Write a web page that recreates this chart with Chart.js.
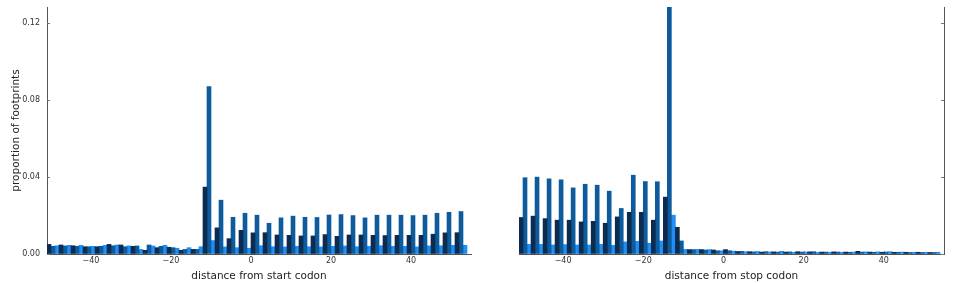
<!DOCTYPE html>
<html>
<head>
<meta charset="utf-8">
<script src="https://cdn.jsdelivr.net/npm/chart.js@4"></script>
<style>
  html, body { margin: 0; padding: 0; background: #fff; }
  #wrap { position: relative; width: 959px; height: 283px; }
  canvas { position: absolute; top: 0; }
  #startChart { left: 0; }
  #stopChart { left: 500px; }
</style>
</head>
<body>
<div id="wrap">
  <canvas id="startChart" width="480" height="283"></canvas>
  <canvas id="stopChart" width="459" height="283"></canvas>
</div>
<script>
// first position of each reading frame (positions step by 3)
const frameStarts = [-51, -50, -49];
const frameColors = ['#0b2c4f', '#0d5b9c', '#1f8ff5'];
const xTicks = [-40, -20, 0, 20, 40];
const yTicks = [0, 0.04, 0.08, 0.12];

// around start codon
const startFrame0 = [0.0050, 0.0047, 0.0043, 0.0038, 0.0038, 0.0050, 0.0047, 0.0040, 0.0019, 0.0033,
  0.0035, 0.0019, 0.0024, 0.0348, 0.0136, 0.0080, 0.0123, 0.0110, 0.0111, 0.0099,
  0.0097, 0.0094, 0.0094, 0.0101, 0.0092, 0.0099, 0.0099, 0.0097, 0.0096, 0.0097,
  0.0097, 0.0097, 0.0103, 0.0110, 0.0111];
const startFrame1 = [0.0040, 0.0042, 0.0040, 0.0038, 0.0040, 0.0043, 0.0038, 0.0042, 0.0047, 0.0040,
  0.0033, 0.0024, 0.0024, 0.0871, 0.0280, 0.0191, 0.0212, 0.0202, 0.0160, 0.0188,
  0.0197, 0.0191, 0.0190, 0.0203, 0.0205, 0.0200, 0.0188, 0.0202, 0.0202, 0.0202,
  0.0200, 0.0202, 0.0212, 0.0217, 0.0221];
const startFrame2 = [0.0043, 0.0045, 0.0045, 0.0040, 0.0045, 0.0047, 0.0042, 0.0024, 0.0042, 0.0045,
  0.0030, 0.0033, 0.0038, 0.0070, 0.0037, 0.0033, 0.0030, 0.0043, 0.0038, 0.0037,
  0.0040, 0.0038, 0.0037, 0.0040, 0.0042, 0.0038, 0.0040, 0.0043, 0.0040, 0.0040,
  0.0037, 0.0042, 0.0043, 0.0045, 0.0045];

// around stop codon
const stopFrame0 = [0.0190, 0.0197, 0.0184, 0.0176, 0.0176, 0.0167, 0.0170, 0.0160, 0.0193, 0.0217,
  0.0217, 0.0176, 0.0296, 0.0139, 0.0023, 0.0023, 0.0021, 0.0023, 0.0013, 0.0012,
  0.0010, 0.0011, 0.0010, 0.0012, 0.0011, 0.0010, 0.0011, 0.0010, 0.0014, 0.0010,
  0.0009, 0.0009, 0.0009, 0.0009, 0.0008];
const stopFrame1 = [0.0397, 0.0400, 0.0391, 0.0386, 0.0344, 0.0363, 0.0358, 0.0327, 0.0237, 0.0410,
  0.0377, 0.0376, 0.1285, 0.0068, 0.0023, 0.0021, 0.0017, 0.0017, 0.0014, 0.0011,
  0.0012, 0.0010, 0.0011, 0.0010, 0.0012, 0.0010, 0.0010, 0.0009, 0.0010, 0.0009,
  0.0010, 0.0009, 0.0008, 0.0008, 0.0008];
const stopFrame2 = [0.0050, 0.0050, 0.0047, 0.0049, 0.0047, 0.0047, 0.0050, 0.0045, 0.0063, 0.0066,
  0.0056, 0.0068, 0.0202, 0.0024, 0.0024, 0.0023, 0.0017, 0.0015, 0.0012, 0.0013,
  0.0011, 0.0014, 0.0009, 0.0010, 0.0009, 0.0009, 0.0009, 0.0010, 0.0011, 0.0011,
  0.0012, 0.0010, 0.0009, 0.0009, 0.0009];

const X_MIN = -51, X_MAX = 55, Y_MAX = 0.1285;
const FONT = 'DejaVu Sans';

// each bar covers [pos, pos+1]
function frameData(values, first) {
  return values.map((v, i) => ({ x: first + 3 * i + 0.5, y: v }));
}

function buildDatasets(frames) {
  return frames.map((vals, f) => ({
    data: frameData(vals, frameStarts[f]),
    backgroundColor: frameColors[f],
    borderWidth: 0,
    grouped: false,
    barPercentage: 1,
    categoryPercentage: 1
  }));
}

// matplotlib style ticks pointing into the axes
const inwardTicks = {
  id: 'inwardTicks',
  beforeDatasetsDraw(chart, args, opts) {
    const { ctx, chartArea, scales } = chart;
    ctx.save();
    ctx.strokeStyle = '#777';
    ctx.lineWidth = 1;
    ctx.beginPath();
    xTicks.forEach(v => {
      const px = Math.round(scales.x.getPixelForValue(v)) + 0.5;
      ctx.moveTo(px, chartArea.bottom);
      ctx.lineTo(px, chartArea.bottom - 3);
    });
    const edge = opts.side === 'right' ? chartArea.right : chartArea.left;
    const dir = opts.side === 'right' ? -1 : 1;
    yTicks.forEach(v => {
      const py = Math.round(scales.y.getPixelForValue(v)) + 0.5;
      ctx.moveTo(edge, py);
      ctx.lineTo(edge + dir * 3, py);
    });
    ctx.stroke();
    ctx.restore();
  }
};

// no extra room for edge labels, the layout padding handles it
function noEdgePadding(s) {
  s.paddingTop = 0;
  s.paddingBottom = 0;
  s.paddingLeft = 0;
  s.paddingRight = 0;
}

function makeChart(id, frames, xTitle, side) {
  const isLeft = side === 'left';
  return new Chart(document.getElementById(id), {
    type: 'bar',
    data: { datasets: buildDatasets(frames) },
    plugins: [inwardTicks],
    options: {
      responsive: false,
      animation: false,
      devicePixelRatio: 1,
      layout: { padding: isLeft ? { left: 0, right: 9, top: 7, bottom: 0 } : { left: 19, right: 0, top: 7, bottom: 0 } },
      plugins: {
        legend: { display: false },
        tooltip: { enabled: false },
        inwardTicks: { side: side }
      },
      scales: {
        x: {
          type: 'linear',
          min: X_MIN,
          max: X_MAX,
          offset: false,
          grid: { display: true, drawOnChartArea: false, drawTicks: false, offset: false },
          border: { display: true, color: '#555', width: 1 },
          afterBuildTicks: s => { s.ticks = xTicks.map(v => ({ value: v })); },
          ticks: {
            padding: 2,
            color: '#333',
            font: { family: FONT, size: 8 },
            callback: v => String(v).replace('-', '\u2212')
          },
          title: {
            display: true,
            text: xTitle,
            color: '#222',
            font: { family: FONT, size: 10.5 },
            padding: { top: 5, bottom: 0 }
          },
          afterFit: s => { s.height = 29; noEdgePadding(s); }
        },
        y: {
          position: side,
          min: 0,
          max: Y_MAX,
          grid: { display: true, drawOnChartArea: false, drawTicks: false },
          border: { display: true, color: '#555', width: 1 },
          afterBuildTicks: s => { s.ticks = yTicks.map(v => ({ value: v })); },
          ticks: {
            display: isLeft,
            padding: 7,
            color: '#333',
            font: { family: FONT, size: 8 },
            callback: v => v.toFixed(2)
          },
          title: {
            display: isLeft,
            text: 'proportion of footprints',
            color: '#222',
            font: { family: FONT, size: 10.5 },
            padding: { top: 10, bottom: 0 }
          },
          afterFit: s => { s.width = isLeft ? 47 : 15; noEdgePadding(s); }
        }
      }
    }
  });
}

makeChart('startChart', [startFrame0, startFrame1, startFrame2], 'distance from start codon', 'left');
makeChart('stopChart', [stopFrame0, stopFrame1, stopFrame2], 'distance from stop codon', 'right');
</script>
</body>
</html>
